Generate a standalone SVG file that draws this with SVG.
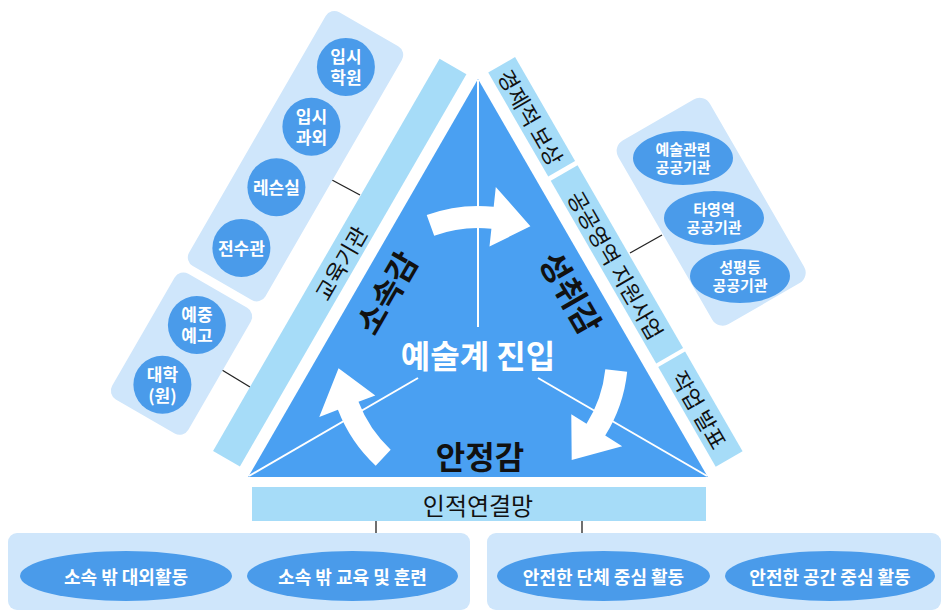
<svg xmlns="http://www.w3.org/2000/svg" width="943" height="612" viewBox="0 0 943 612">
<style>
.tri{fill:#4aa0f2}
.strip{fill:#a6dcf8}
.panel{fill:#cfe6fb}
.bub{fill:#4a9bea}
.wl{stroke:#fff;stroke-width:2;fill:none}
.arr{fill:#fff}
.con{stroke:#222;stroke-width:1.3;fill:none}
text{font-family:"Noto Sans CJK KR","Noto Sans",sans-serif;text-anchor:middle;dominant-baseline:central}
.big{font-size:32px;font-weight:700;fill:#111}
.center{font-size:32px;font-weight:700;fill:#fff}
.sl{font-size:22px;fill:#111}
.cl{font-size:17px;font-weight:700;fill:#fff}
.el{font-size:15px;font-weight:700;fill:#fff}
.bl{font-size:18px;font-weight:700;fill:#fff}
</style>
<rect width="943" height="612" fill="#fff"/>

<g id="triangle">
<polygon class="tri" points="478,79 248.2,477 707.8,477"/>
<line class="wl" x1="478" y1="80" x2="478" y2="327"/>
<line class="wl" x1="249" y1="476" x2="418" y2="378"/>
<line class="wl" x1="707" y1="476" x2="538" y2="378"/>
<g id="arrows">
<path id="arrow-top" class="arr" d="M426.7 215.05 A150 150 0 0 1 493.7 206.8 L495.8 186.9 L530.4 226.2 L489.5 246.6 L491.4 228.7 A128 128 0 0 0 434.2 235.7 Z"/>
<path id="arrow-right" class="arr" transform="rotate(116 478 356)" d="M426.7 215.05 A150 150 0 0 1 493.7 206.8 L495.8 186.9 L530.4 226.2 L489.5 246.6 L491.4 228.7 A128 128 0 0 0 434.2 235.7 Z"/>
<path id="arrow-left" class="arr" transform="rotate(243 478 356)" d="M426.7 215.05 A150 150 0 0 1 493.7 206.8 L495.8 186.9 L530.4 226.2 L489.5 246.6 L491.4 228.7 A128 128 0 0 0 434.2 235.7 Z"/>
</g>
<text class="center" x="478" y="354">예술계 진입</text>
<text class="big" x="480" y="455">안정감</text>
<text class="big" transform="rotate(-60 385 292)" x="385" y="292">소속감</text>
<text class="big" transform="rotate(60 572 292)" x="572" y="292">성취감</text>
</g>

<g id="connectors">
<line class="con" x1="332" y1="180" x2="360" y2="195"/>
<line class="con" x1="222" y1="370" x2="250" y2="387"/>
<line class="con" x1="630" y1="253" x2="662" y2="235"/>
<line class="con" x1="376" y1="521" x2="376" y2="534"/>
<line class="con" x1="582" y1="521" x2="582" y2="534"/>
</g>

<g id="strip-education">
<rect class="strip" transform="rotate(-60)" x="-284" y="410" width="453" height="31"/>
<text class="sl" transform="rotate(-60)" x="-57.5" y="425.5">교육기관</text>
</g>
<g id="strip-reward">
<rect class="strip" transform="rotate(60)" x="307" y="-417.5" width="120" height="31"/>
<text class="sl" transform="rotate(60)" x="367" y="-402">경제적 보상</text>
</g>
<g id="strip-public">
<rect class="strip" transform="rotate(60)" x="432" y="-417.5" width="211" height="31"/>
<text class="sl" transform="rotate(60)" x="537.5" y="-402">공공영역 지원사업</text>
</g>
<g id="strip-present">
<rect class="strip" transform="rotate(60)" x="647" y="-417.5" width="115" height="31"/>
<text class="sl" transform="rotate(60)" x="704.5" y="-402">작업 발표</text>
</g>
<g id="strip-network">
<rect class="strip" x="252" y="487" width="454" height="34"/>
<text class="sl" x="478" y="504" style="font-size:24px">인적연결망</text>
</g>

<g id="panel-private">
<rect class="panel" transform="rotate(-60)" x="-134" y="290" width="293" height="88" rx="10"/>
<g id="n-academy"><circle class="bub" cx="345.9" cy="66.9" r="29"/><text class="cl" x="345.9" y="55">입시<tspan x="345.9" dy="21">학원</tspan></text></g>
<g id="n-tutor"><circle class="bub" cx="311.4" cy="126.7" r="29"/><text class="cl" x="311.4" y="115">입시<tspan x="311.4" dy="21">과외</tspan></text></g>
<g id="n-lesson"><circle class="bub" cx="276.4" cy="187.3" r="29"/><text class="cl" x="276.4" y="186">레슨실</text></g>
<g id="n-hall"><circle class="bub" cx="241.4" cy="247.9" r="29"/><text class="cl" x="241.4" y="247">전수관</text></g>
</g>
<g id="panel-school">
<rect class="panel" transform="rotate(-60)" x="-288" y="290" width="145" height="88" rx="10"/>
<g id="n-artschool"><circle class="bub" cx="196.9" cy="325" r="29"/><text class="cl" x="196.9" y="313">예중<tspan x="196.9" dy="21">예고</tspan></text></g>
<g id="n-univ"><circle class="bub" cx="162.4" cy="384.7" r="29"/><text class="cl" x="162.4" y="373">대학<tspan x="162.4" dy="21">(원)</tspan></text></g>
</g>

<g id="panel-publicorg">
<rect class="panel" transform="rotate(60)" x="433" y="-563" width="212" height="106" rx="12"/>
<g id="n-artorg"><ellipse class="bub" cx="683" cy="158" rx="50" ry="27"/><text class="el" x="683" y="148">예술관련<tspan x="683" dy="18">공공기관</tspan></text></g>
<g id="n-otherorg"><ellipse class="bub" cx="714" cy="218" rx="50" ry="27"/><text class="el" x="714" y="208">타영역<tspan x="714" dy="18">공공기관</tspan></text></g>
<g id="n-genderorg"><ellipse class="bub" cx="740" cy="276" rx="50" ry="27"/><text class="el" x="740" y="266">성평등<tspan x="740" dy="18">공공기관</tspan></text></g>
</g>

<g id="panel-outside">
<rect class="panel" x="8" y="533" width="462" height="77" rx="9"/>
<g id="n-extact"><ellipse class="bub" cx="126" cy="576" rx="106" ry="25"/><text class="bl" x="126" y="576">소속 밖 대외활동</text></g>
<g id="n-exttrain"><ellipse class="bub" cx="352.5" cy="576" rx="105.5" ry="25"/><text class="bl" x="352.5" y="576">소속 밖 교육 및 훈련</text></g>
</g>
<g id="panel-safe">
<rect class="panel" x="487" y="533" width="454" height="77" rx="9"/>
<g id="n-safegroup"><ellipse class="bub" cx="603.5" cy="576" rx="106.5" ry="25"/><text class="bl" x="603.5" y="576">안전한 단체 중심 활동</text></g>
<g id="n-safespace"><ellipse class="bub" cx="830" cy="576" rx="105" ry="25"/><text class="bl" x="830" y="576">안전한 공간 중심 활동</text></g>
</g>
</svg>
